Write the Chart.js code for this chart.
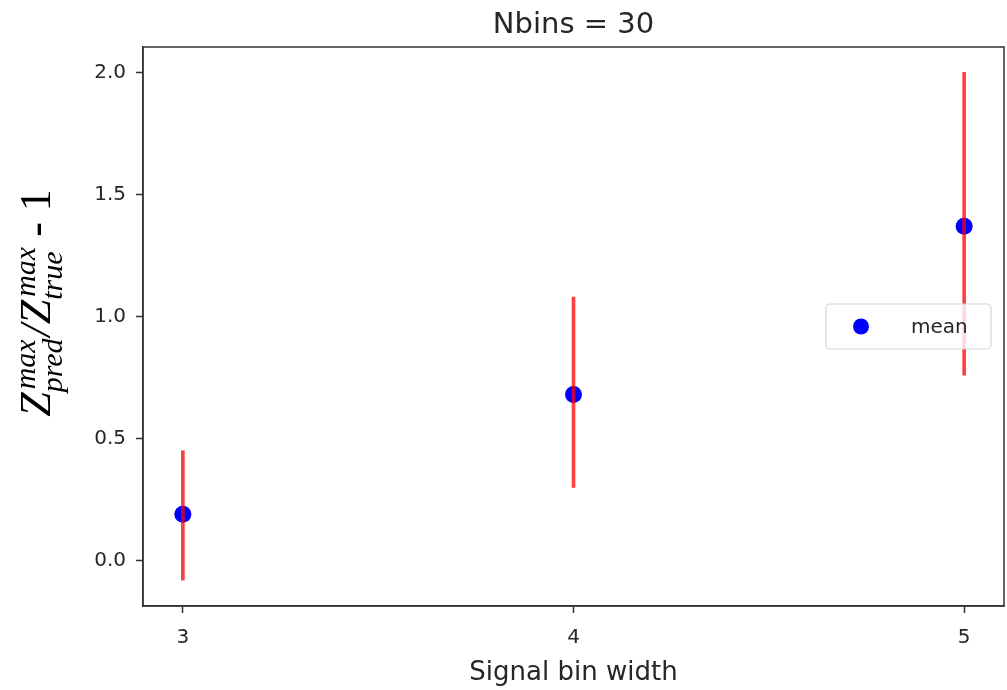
<!DOCTYPE html>
<html>
<head>
<meta charset="utf-8">
<script src="https://cdn.jsdelivr.net/npm/chart.js@4/dist/chart.umd.min.js"></script>
<style>
  html, body { margin: 0; padding: 0; background: #fff; overflow: hidden; }
  canvas { display: block; }
</style>
</head>
<body>
<canvas id="errChart" width="1007" height="690"></canvas>
<script>
const xValues = [3, 4, 5];
const meanValues = [0.19, 0.68, 1.37];
const errLow = [-0.08, 0.30, 0.76];
const errHigh = [0.45, 1.08, 2.00];
const xTicks = [3, 4, 5];
const yTicks = [0.0, 0.5, 1.0, 1.5, 2.0];

const textColor = '#262626';
const axisColor = '#333';

// frame around the plot area (matplotlib spines) + title over the axes
const framePlugin = {
    id: 'frame',
    afterDraw(chart) {
        const { ctx, chartArea: a } = chart;
        ctx.save();
        ctx.strokeStyle = axisColor;
        ctx.lineWidth = 1.5;
        ctx.strokeRect(a.left, a.top, a.right - a.left, a.bottom - a.top);
        ctx.fillStyle = textColor;
        ctx.font = '29px "DejaVu Sans"';
        ctx.textAlign = 'center';
        ctx.textBaseline = 'alphabetic';
        ctx.fillText('Nbins = 30', (a.left + a.right) / 2, 33);
        ctx.restore();
    }
};

// legend inside the axes, center right
const legendPlugin = {
    id: 'insideLegend',
    afterDatasetsDraw(chart) {
        const { ctx, chartArea: a } = chart;
        const ds = chart.data.datasets[1];
        const w = 165, h = 45;
        const right = a.right - 13;
        const left = right - w;
        const cy = (a.top + a.bottom) / 2;
        ctx.save();
        ctx.beginPath();
        ctx.roundRect(left, cy - h / 2, w, h, 4);
        ctx.fillStyle = 'rgba(255,255,255,0.8)';
        ctx.fill();
        ctx.strokeStyle = '#d6d6d6';
        ctx.lineWidth = 1.2;
        ctx.stroke();
        ctx.beginPath();
        ctx.arc(left + 35, cy, 8, 0, Math.PI * 2);
        ctx.fillStyle = ds.backgroundColor;
        ctx.fill();
        ctx.fillStyle = textColor;
        ctx.font = '20px "DejaVu Sans"';
        ctx.textBaseline = 'middle';
        ctx.fillText(ds.label, left + 85, cy + 1);
        ctx.restore();
    }
};

// y-axis label with sub/superscripts
const yLabelPlugin = {
    id: 'yLabel',
    afterDraw(chart) {
        const { ctx } = chart;
        const big = 'italic 44px "Liberation Serif"';
        const small = 'italic 30px "Liberation Serif"';
        const plain = '44px "Liberation Serif"';
        const parts = [
            { t: 'Z', font: big },
            { sup: 'max', sub: 'pred' },
            { t: '/', font: big },
            { t: 'Z', font: big },
            { sup: 'max', sub: 'true' },
            { t: ' - 1', font: plain }
        ];
        ctx.save();
        let total = 0;
        parts.forEach(p => {
            if (p.t) {
                ctx.font = p.font;
                p.w = ctx.measureText(p.t).width;
            } else {
                ctx.font = small;
                p.w = Math.max(ctx.measureText(p.sup).width, ctx.measureText(p.sub).width) + 2;
            }
            total += p.w;
        });
        ctx.translate(50, 303);
        ctx.rotate(-Math.PI / 2);
        ctx.fillStyle = '#000';
        ctx.textBaseline = 'alphabetic';
        let x = -total / 2;
        parts.forEach(p => {
            if (p.t) {
                ctx.font = p.font;
                ctx.fillText(p.t, x, 0);
            } else {
                ctx.font = small;
                ctx.fillText(p.sup, x + 3, -15);
                ctx.fillText(p.sub, x, 12);
            }
            x += p.w;
        });
        ctx.restore();
    }
};

const ctx = document.getElementById('errChart').getContext('2d');
new Chart(ctx, {
    type: 'scatter',
    data: {
        datasets: [{
            type: 'bar',
            label: 'spread',
            data: xValues.map((x, i) => ({ x: x, y: [errLow[i], errHigh[i]] })),
            backgroundColor: 'rgba(255, 0, 0, 0.75)',
            borderWidth: 0,
            barThickness: 3,
            order: 0
        },
        {
            type: 'scatter',
            label: 'mean',
            data: xValues.map((x, i) => ({ x: x, y: meanValues[i] })),
            backgroundColor: '#0000ff',
            borderWidth: 0,
            pointRadius: 8.5,
            order: 1
        }]
    },
    options: {
        responsive: false,
        animation: false,
        layout: { autoPadding: false, padding: { left: 0, right: 3, top: 47, bottom: 0 } },
        plugins: {
            legend: { display: false },
            tooltip: { enabled: false },
            title: { display: false }
        },
        scales: {
            x: {
                type: 'linear',
                min: 2.898,
                max: 5.102,
                offset: false,
                afterBuildTicks: s => { s.ticks = xTicks.map(v => ({ value: v })); },
                afterFit: s => { s.height = 84; s.paddingLeft = 0; s.paddingRight = 0; },
                grid: { offset: false, drawOnChartArea: false, tickLength: 7, color: axisColor, tickWidth: 1.5 },
                border: { color: axisColor, width: 1.5 },
                ticks: {
                    color: textColor,
                    font: { family: 'DejaVu Sans', size: 20 },
                    padding: 13,
                    maxRotation: 0,
                    callback: v => String(v)
                },
                title: {
                    display: true,
                    text: 'Signal bin width',
                    color: textColor,
                    font: { family: 'DejaVu Sans', size: 26 },
                    padding: { top: 0, bottom: 1.5 }
                }
            },
            y: {
                min: -0.186,
                max: 2.104,
                afterBuildTicks: s => { s.ticks = yTicks.map(v => ({ value: v })); },
                afterFit: s => { s.width = 143; s.paddingTop = 0; s.paddingBottom = 0; },
                grid: { drawOnChartArea: false, tickLength: 7, color: axisColor, tickWidth: 1.5 },
                border: { color: axisColor, width: 1.5 },
                ticks: {
                    color: textColor,
                    font: { family: 'DejaVu Sans', size: 20 },
                    padding: 10,
                    callback: v => v.toFixed(1)
                }
            }
        }
    },
    plugins: [framePlugin, legendPlugin, yLabelPlugin]
});
</script>
</body>
</html>
